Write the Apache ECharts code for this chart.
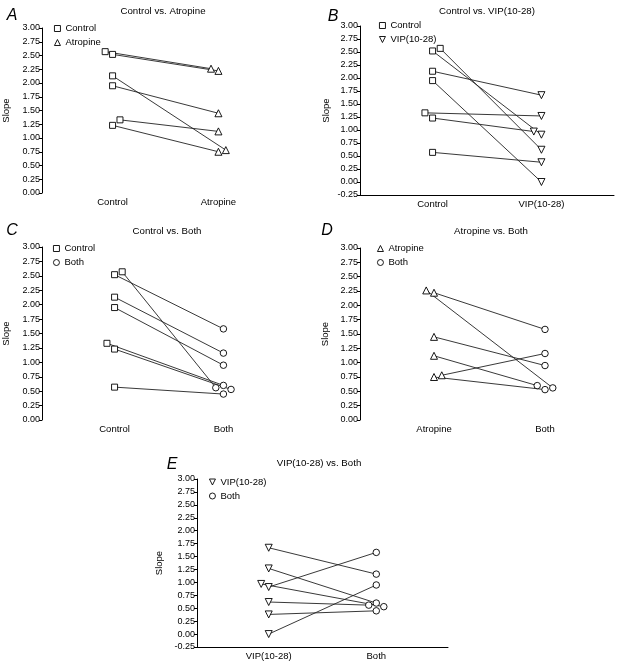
<!DOCTYPE html>
<html>
<head>
<meta charset="utf-8">
<script src="https://cdn.jsdelivr.net/npm/echarts@6/dist/echarts.min.js"></script>
<style>
  html, body { margin: 0; padding: 0; background: #fff; }
  #chart { width: 623px; height: 661px; }
</style>
</head>
<body>
<div id="chart"></div>
<script>
// ---- data: slope per subject (S1..S7) under each condition ----
const subjects = ['S1', 'S2', 'S3', 'S4', 'S5', 'S6', 'S7'];
const control  = [2.52, 2.57, 2.13, 1.95, 1.33, 1.23, 0.57];
const atropine = [2.22, 2.26, 0.78, 1.45, 1.12, 0.75, null];
const vip      = [0.91, 0.62, 1.67, 0.00, 1.27, 0.97, 0.38];
const both     = [1.58, 0.56, 1.16, 0.95, 0.60, 0.53, 0.45];

const yTicksPos = ['0.00','0.25','0.50','0.75','1.00','1.25','1.50','1.75','2.00','2.25','2.50','2.75','3.00'];
const yTicksNeg = ['-0.25'].concat(yTicksPos);

// panel definitions: groups compared, per-subject jitter (-1 left, 0 centre, +1 right)
const panelLetters = ['A', 'B', 'C', 'D', 'E'];
const panelTitles = ['Control vs. Atropine', 'Control vs. VIP(10-28)', 'Control vs. Both', 'Atropine vs. Both', 'VIP(10-28) vs. Both'];
const groupNames = { control: 'Control', atropine: 'Atropine', vip: 'VIP(10-28)', both: 'Both' };
const groupData = { control, atropine, vip, both };
const panelGroups = [['control', 'atropine'], ['control', 'vip'], ['control', 'both'], ['atropine', 'both'], ['vip', 'both']];
const jitterA = [[0, -1, 0, 0, 1, 0, 0], [0, -1, 1, 0, 0, 0, 0]];
const jitterB = [[0, 1, 0, 0, -1, 0, 0], [0, 0, 0, 0, 0, -1, 0]];
const jitterC = [[0, 1, 0, 0, -1, 0, 0], [0, -1, 0, 0, 0, 1, 0]];
const jitterD = [[0, -1, 1, 0, 0, 0, 0], [0, 1, 0, 0, -1, 0, 0]];
const jitterE = [[0, 0, 0, 0, 0, -1, 0], [0, -1, 0, 0, 0, 1, 0]];
const panelJitter = [jitterA, jitterB, jitterC, jitterD, jitterE];
const panelYMin = [0, -0.25, 0, 0, -0.25];

// ---- layout ----
const grids = [
  { left: 39,  top: 28,  width: 250, height: 165 },
  { left: 360, top: 26,  width: 254, height: 169 },
  { left: 38,  top: 247, width: 258, height: 173 },
  { left: 360, top: 248, width: 259, height: 172 },
  { left: 197, top: 479, width: 251, height: 169 }
];
const nameGaps = [31, 29, 31, 30, 33];
const legendPos = [
  { left: 54, top: 23 }, { left: 379, top: 20 }, { left: 53, top: 243 },
  { left: 377, top: 243 }, { left: 209, top: 476.5 }
];
const letterPos = [[12, 16], [333, 17], [12, 231], [327, 231], [172, 465]];
const titlePos = [[163, 11], [487, 11], [167, 231], [491, 231], [319, 463]];

const CAT_X = [2, 5];   // category positions on 0..7 value axis
const JIT = 0.21;
const FONT = '"Liberation Sans", Arial, Helvetica, sans-serif';
const symbols = {
  control:  { symbol: 'rect', symbolSize: 6, symbolRotate: 0 },
  atropine: { symbol: 'triangle', symbolSize: 7, symbolRotate: 0 },
  vip:      { symbol: 'triangle', symbolSize: 7, symbolRotate: 180 },
  both:     { symbol: 'circle', symbolSize: 6.5, symbolRotate: 0 }
};
const legendIcons = {
  control: 'path://M0,0 L10,0 L10,10 L0,10 Z',
  atropine: 'path://M5,0 L10,10 L0,10 Z',
  vip: 'path://M0,0 L10,0 L5,10 Z',
  both: 'circle'
};

const xAxes = [], yAxes = [], series = [], legends = [], graphics = [];

grids.forEach((g, p) => {
  const [g1, g2] = panelGroups[p];
  const neg = panelYMin[p] < 0;
  xAxes.push({
    type: 'value', gridIndex: p, min: 0, max: 7, interval: 1,
    axisLine: { show: neg, onZero: false, lineStyle: { color: '#000', width: 1 } },
    axisTick: { show: false }, splitLine: { show: false },
    axisLabel: {
      margin: 4, fontSize: 9.5, color: '#000', fontFamily: FONT,
      formatter: v => v === CAT_X[0] ? groupNames[g1] : (v === CAT_X[1] ? groupNames[g2] : '')
    }
  });
  const ticks = neg ? yTicksNeg : yTicksPos;
  yAxes.push({
    type: 'value', gridIndex: p, min: Number(ticks[0]), max: Number(ticks[ticks.length - 1]), interval: 0.25,
    name: 'Slope', nameLocation: 'middle', nameGap: nameGaps[p], nameRotate: 90,
    nameTextStyle: { fontSize: 9.5, color: '#000', fontFamily: FONT },
    axisLine: { show: true, onZero: false, lineStyle: { color: '#000', width: 1 } },
    axisTick: { show: true, length: 3, lineStyle: { color: '#000', width: 1 } },
    splitLine: { show: false },
    axisLabel: { margin: 2, fontSize: 9, color: '#000', fontFamily: FONT, formatter: v => v.toFixed(2) }
  });

  const d1 = groupData[g1], d2 = groupData[g2];
  const [j1, j2] = panelJitter[p];
  // connecting lines
  subjects.forEach((s, i) => {
    if (d1[i] == null || d2[i] == null) return;
    series.push({
      type: 'line', xAxisIndex: p, yAxisIndex: p, silent: true, symbol: 'none',
      lineStyle: { color: '#222', width: 0.9 }, z: 2,
      data: [[CAT_X[0] + j1[i] * JIT, d1[i]], [CAT_X[1] + j2[i] * JIT, d2[i]]]
    });
  });
  // markers (only for subjects measured in both conditions of the panel)
  [[g1, d1, j1, 0], [g2, d2, j2, 1]].forEach(([gk, d, j, k]) => {
    const pts = [];
    d.forEach((v, i) => {
      if (d1[i] == null || d2[i] == null) return;
      pts.push([CAT_X[k] + j[i] * JIT, v]);
    });
    series.push(Object.assign({
      type: 'scatter', name: groupNames[gk], xAxisIndex: p, yAxisIndex: p, z: 5,
      itemStyle: { color: '#fff', borderColor: '#000', borderWidth: 0.9, opacity: 1 },
      data: pts
    }, symbols[gk]));
  });

  legends.push({
    orient: 'vertical', left: legendPos[p].left, top: legendPos[p].top, padding: 0,
    itemWidth: 6, itemHeight: 6, itemGap: 3, selectedMode: false,
    itemStyle: { color: '#fff', borderColor: '#000', borderWidth: 0.9 },
    textStyle: { fontSize: 9.5, color: '#000', fontFamily: FONT, lineHeight: 11 },
    data: [
      { name: groupNames[g1], icon: legendIcons[g1] },
      { name: groupNames[g2], icon: legendIcons[g2] }
    ]
  });

  graphics.push({
    type: 'text', x: letterPos[p][0], y: letterPos[p][1],
    style: { text: panelLetters[p], font: 'italic 16px ' + FONT, fill: '#000',
             align: 'center', verticalAlign: 'middle', textAlign: 'center', textVerticalAlign: 'middle' }
  });
  graphics.push({
    type: 'text', x: titlePos[p][0], y: titlePos[p][1],
    style: { text: panelTitles[p], font: '9.7px ' + FONT, fill: '#000',
             align: 'center', verticalAlign: 'middle', textAlign: 'center', textVerticalAlign: 'middle' }
  });
});

const chart = echarts.init(document.getElementById('chart'), null, { renderer: 'canvas' });
chart.setOption({
  animation: false,
  backgroundColor: '#fff',
  grid: grids,
  xAxis: xAxes,
  yAxis: yAxes,
  legend: legends,
  graphic: graphics,
  series: series
});
</script>
</body>
</html>
